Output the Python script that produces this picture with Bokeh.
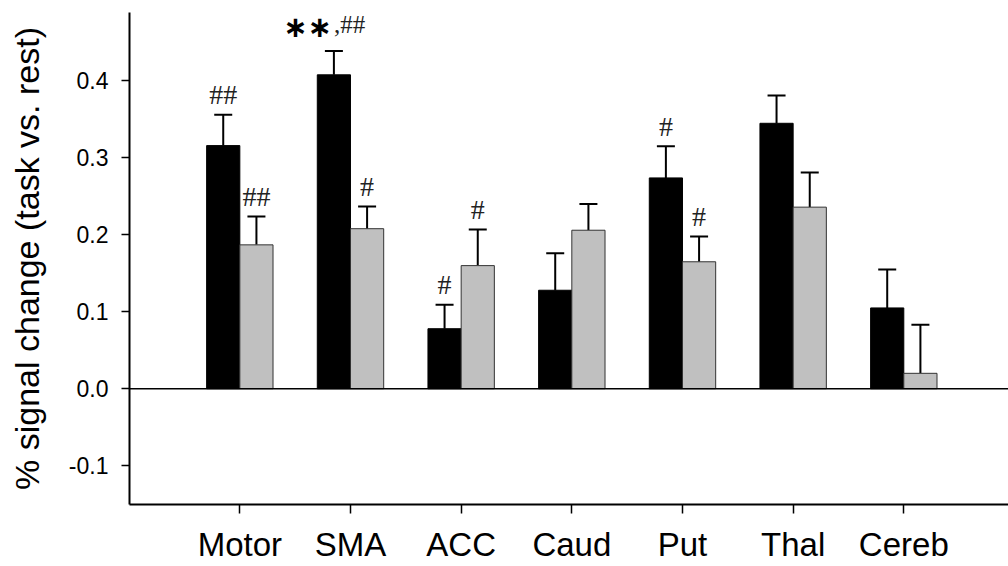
import numpy as np
from bokeh.plotting import figure
from bokeh.models import (ColumnDataSource, Whisker, TeeHead, Span, FixedTicker,
                          Range1d, NumeralTickFormatter)
from bokeh.core.properties import value
from bokeh.embed import file_html
from bokeh.resources import INLINE

# ---- data ----
regions = ["Motor", "SMA", "ACC", "Caud", "Put", "Thal", "Cereb"]
black_vals = [0.316, 0.408, 0.078, 0.128, 0.274, 0.345, 0.105]
black_err = [0.040, 0.031, 0.031, 0.048, 0.041, 0.036, 0.050]
gray_vals = [0.187, 0.208, 0.160, 0.206, 0.165, 0.236, 0.020]
gray_err = [0.037, 0.029, 0.047, 0.034, 0.033, 0.045, 0.063]
black_marks = ["##", "", "#", "", "#", "", ""]
gray_marks = ["##", "#", "#", "", "#", "", ""]
sma_stars = "\u2217\u2217"
sma_hash = ",##"
y_ticks = [-0.1, 0.0, 0.1, 0.2, 0.3, 0.4]

x = np.arange(1, len(regions) + 1)
bw = 0.3
xb = x - bw / 2
xg = x + bw / 2

bsrc = ColumnDataSource(dict(x=xb, top=black_vals, lower=black_vals,
                             upper=np.array(black_vals) + np.array(black_err),
                             mark=black_marks))
gsrc = ColumnDataSource(dict(x=xg, top=gray_vals, lower=gray_vals,
                             upper=np.array(gray_vals) + np.array(gray_err),
                             mark=gray_marks))

p = figure(width=1008, height=566, output_backend="svg", toolbar_location=None,
           x_range=Range1d(0.003, 7.946), y_range=Range1d(-0.1505, 0.489),
           min_border_left=129, min_border_right=0, min_border_top=12,
           min_border_bottom=62)
p.outline_line_color = None
p.xgrid.visible = False
p.ygrid.visible = False
p.background_fill_color = "white"

p.vbar(x="x", top="top", bottom=0, width=bw, source=bsrc,
       fill_color="black", line_color="black", line_width=1)
p.vbar(x="x", top="top", bottom=0, width=bw, source=gsrc,
       fill_color="#c0c0c0", line_color="#333333", line_width=1)

for src in (bsrc, gsrc):
    w = Whisker(base="x", lower="lower", upper="upper", source=src,
                line_color="black", line_width=2,
                upper_head=TeeHead(size=18, line_color="black", line_width=2),
                lower_head=None)
    p.add_layout(w)

p.add_layout(Span(location=0, dimension="width", line_color="black", line_width=1.5))

for src in (bsrc, gsrc):
    p.text(x="x", y="upper", text="mark", source=src, text_align="center",
           text_baseline="alphabetic", y_offset=-20, text_font=value("Liberation Serif"),
           text_font_size="28px", text_color="#222222")

# SMA special annotation
i = regions.index("SMA")
sma_top = black_vals[i] + black_err[i]
p.text(x=[xb[i]], y=[sma_top], text=[sma_stars], text_align="right",
       text_baseline="alphabetic", x_offset=-2, y_offset=-24,
       text_font=value("DejaVu Sans"), text_font_style="bold",
       text_font_size="29px", text_color="black")
p.text(x=[xb[i]], y=[sma_top], text=[sma_hash], text_align="left",
       text_baseline="alphabetic", x_offset=0, y_offset=-26,
       text_font=value("Liberation Serif"), text_font_size="25px", text_color="#222222")

# axes
p.xaxis.ticker = FixedTicker(ticks=list(x))
p.xaxis.major_label_overrides = {int(k): r for k, r in zip(x, regions)}
p.xaxis.major_label_text_font = "Liberation Sans"
p.xaxis.major_label_text_font_size = "33px"
p.xaxis.major_label_text_color = "black"
p.xaxis.major_tick_out = 9
p.xaxis.major_tick_in = 0
p.xaxis.minor_tick_line_color = None
p.xaxis.major_label_standoff = 12
p.xaxis.axis_line_width = 2
p.xaxis.axis_line_color = "black"
p.xaxis.major_tick_line_width = 1.5

p.yaxis.ticker = FixedTicker(ticks=y_ticks)
p.yaxis.formatter = NumeralTickFormatter(format="0.0")
p.yaxis.major_label_text_font = "Liberation Sans"
p.yaxis.major_label_text_font_size = "23px"
p.yaxis.major_label_text_color = "black"
p.yaxis.major_tick_out = 8
p.yaxis.major_tick_in = 0
p.yaxis.minor_tick_line_color = None
p.yaxis.major_label_standoff = 13
p.yaxis.axis_line_width = 2
p.yaxis.axis_line_color = "black"
p.yaxis.major_tick_line_width = 1.5
p.yaxis.axis_label = "% signal change (task vs. rest)"
p.yaxis.axis_label_text_font = "Liberation Sans"
p.yaxis.axis_label_text_font_style = "normal"
p.yaxis.axis_label_text_font_size = "34px"
p.yaxis.axis_label_text_color = "black"
p.yaxis.axis_label_standoff = 20

open("out.html", "w").write(file_html(p, INLINE))
